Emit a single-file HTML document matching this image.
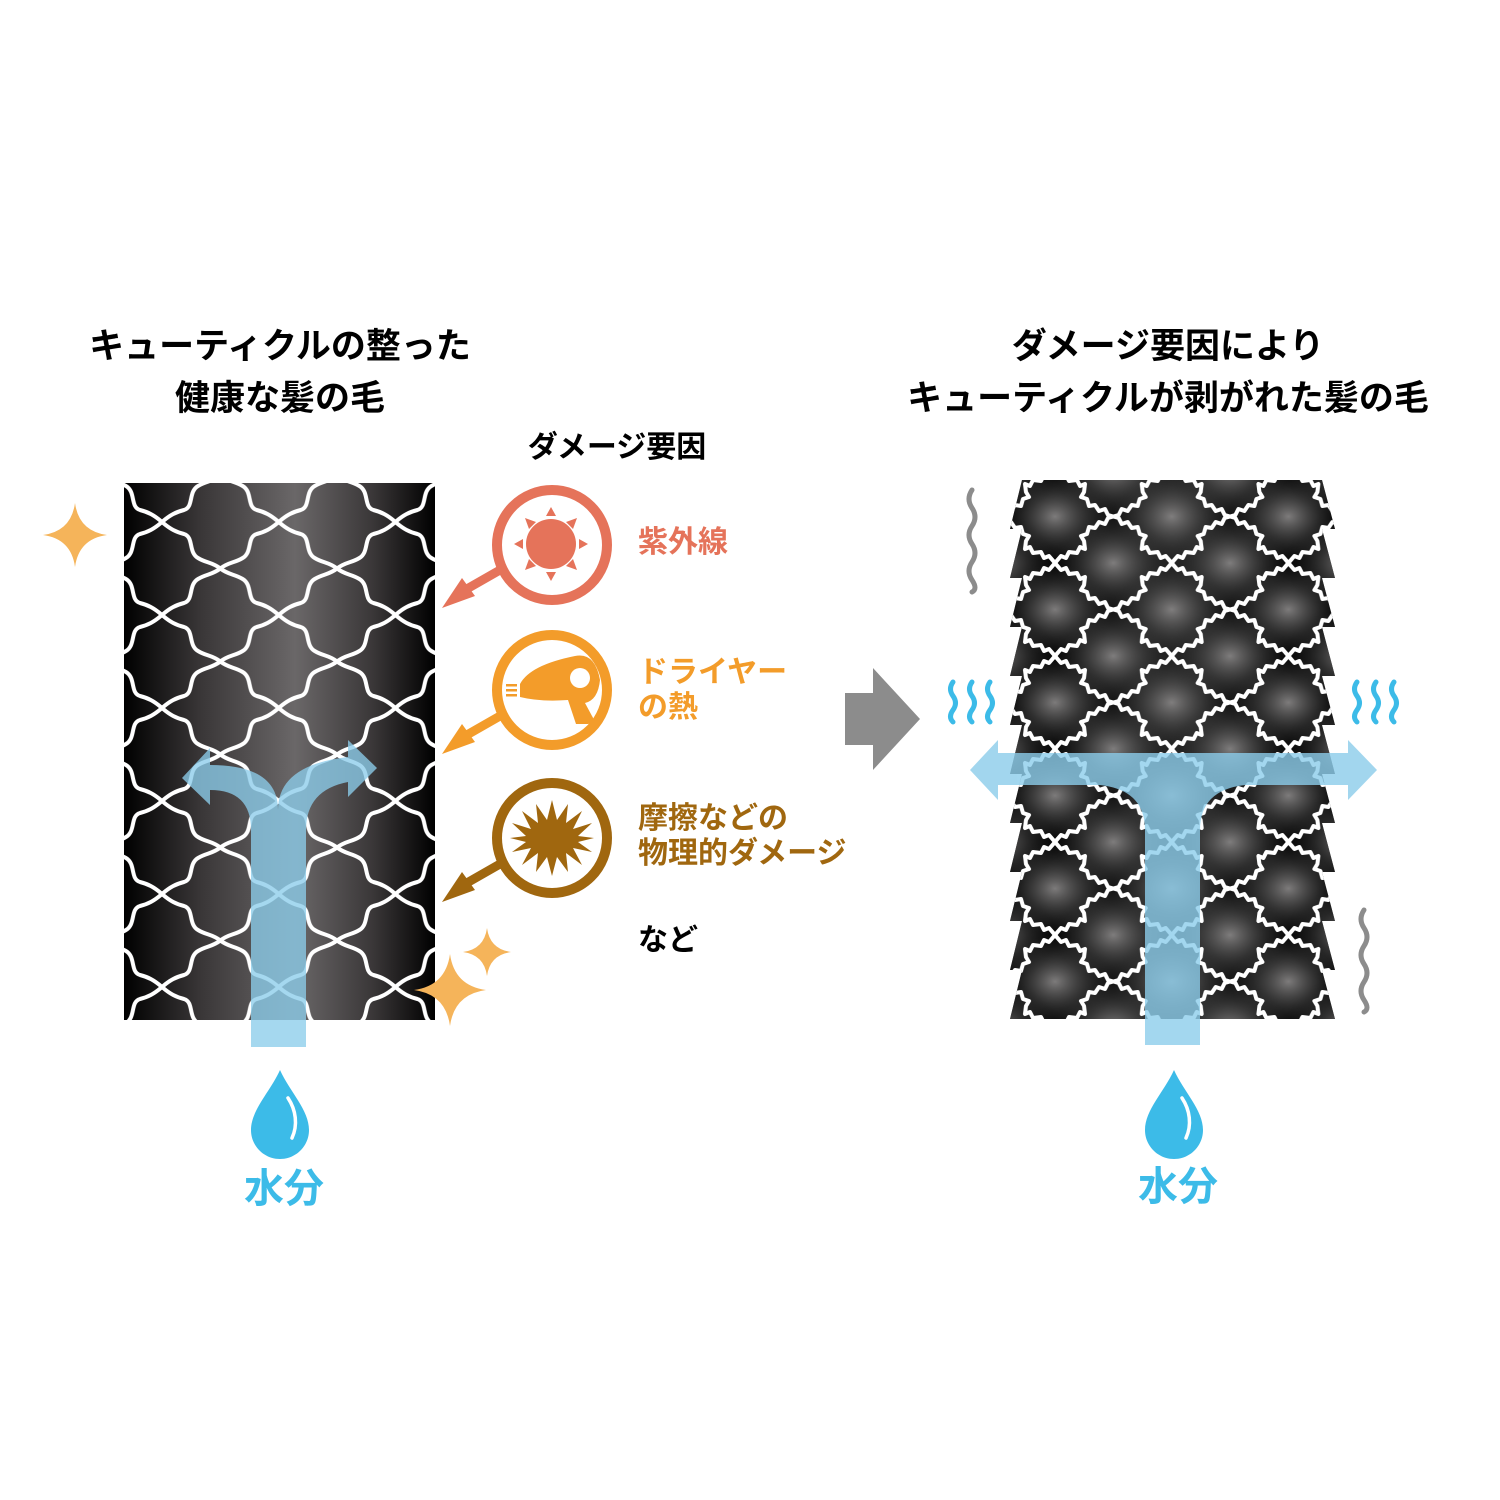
<!DOCTYPE html>
<html><head><meta charset="utf-8"><style>
html,body{margin:0;padding:0;background:#fff;}
svg{display:block}
text{font-family:"Liberation Sans","Noto Sans CJK JP",sans-serif;font-weight:bold;}
</style></head><body>
<svg width="1500" height="1500" viewBox="0 0 1500 1500" xmlns="http://www.w3.org/2000/svg">
<defs>
<linearGradient id="lg" x1="0" x2="1" y1="0" y2="0">
<stop offset="0" stop-color="#000"/><stop offset="0.25" stop-color="#3a3738"/><stop offset="0.55" stop-color="#6a6768"/><stop offset="0.8" stop-color="#3a3738"/><stop offset="1" stop-color="#000"/>
</linearGradient>
<linearGradient id="lg2" x1="0" x2="1" y1="0" y2="0">
<stop offset="0" stop-color="#000"/><stop offset="0.5" stop-color="#222"/><stop offset="1" stop-color="#000"/>
</linearGradient>
<radialGradient id="rg" cx="0.5" cy="0.5" r="0.5">
<stop offset="0" stop-color="#8a8888" stop-opacity="0.9"/><stop offset="0.6" stop-color="#555" stop-opacity="0.35"/><stop offset="1" stop-color="#333" stop-opacity="0"/>
</radialGradient>
<path id="e1" d="M0,0 C8,7 14,10 22,12 C32,15 26,30 36,36 C44,41 50,40 58.35,46.5" fill="none" stroke="#fff" stroke-width="4"/>
<pattern id="pl" patternUnits="userSpaceOnUse" x="45.3" y="57" width="116.7" height="93">
<use href="#e1"/>
<use href="#e1" transform="translate(116.7,0) scale(-1,1)"/>
<use href="#e1" transform="translate(0,93) scale(1,-1)"/>
<use href="#e1" transform="translate(116.7,93) scale(-1,-1)"/>
</pattern>
<path id="e2" d="M0,0 L6,7 L11,5 L14,11 L22,10 L25,16 L30,14 L29,22 L26,27 L32,29 L34,36 L40,35 L44,41 L50,39 L53,45 L58.35,46.5" fill="none" stroke="#fff" stroke-width="4" stroke-linejoin="round"/>
<pattern id="pr" patternUnits="userSpaceOnUse" x="1055" y="470" width="116.7" height="93">
<ellipse cx="58.35" cy="0" rx="58" ry="46" fill="url(#rg)"/>
<ellipse cx="0" cy="46.5" rx="58" ry="46" fill="url(#rg)"/>
<ellipse cx="116.7" cy="46.5" rx="58" ry="46" fill="url(#rg)"/>
<ellipse cx="58.35" cy="93" rx="58" ry="46" fill="url(#rg)"/>
<use href="#e2"/>
<use href="#e2" transform="translate(116.7,0) scale(-1,1)"/>
<use href="#e2" transform="translate(0,93) scale(1,-1)"/>
<use href="#e2" transform="translate(116.7,93) scale(-1,-1)"/>
</pattern>
<path id="sp" d="M0,-1 Q0.12,-0.12 1,0 Q0.12,0.12 0,1 Q-0.12,0.12 -1,0 Q-0.12,-0.12 0,-1Z" fill="#f5b45a"/>
<path id="drop" d="M0,-52 C-10,-30 -29,-12 -29,8 C-29,24 -16,37 0,37 C16,37 29,24 29,8 C29,-12 10,-30 0,-52Z" fill="#3cbbe8"/>
</defs>

<text x="280" y="358" font-size="35" text-anchor="middle">キューティクルの整った</text>
<text x="280" y="410" font-size="35" text-anchor="middle">健康な髪の毛</text>
<text x="1168" y="358" font-size="35" text-anchor="middle">ダメージ要因により</text>
<text x="1168" y="410" font-size="35" text-anchor="middle">キューティクルが剥がれた髪の毛</text>
<text x="617" y="457" font-size="30" text-anchor="middle">ダメージ要因</text>

<rect x="124" y="483" width="311" height="537" fill="url(#lg)"/>
<rect x="124" y="483" width="311" height="537" fill="url(#pl)"/>

<g fill="#8ccdeb" opacity="0.78">
<path d="M251,1047 L251,830 Q251,790 210,790 L210,765 Q278,765 278,810 Q278,765 348,757 L348,782 Q306,790 306,830 L306,1047Z"/>
<polygon points="182,778 210,748 210,805"/>
<polygon points="377,768 348,740 348,797"/>
</g>
<use href="#drop" x="280" y="1122"/>
<path d="M288,1098 C296,1110 298,1125 292,1138" stroke="#fff" stroke-width="3.5" fill="none" stroke-linecap="round"/>
<text x="284" y="1202" font-size="40" fill="#3cbbe8" text-anchor="middle">水分</text>

<use href="#sp" transform="translate(75,535) scale(32)"/>
<use href="#sp" transform="translate(450,990) scale(36)"/>
<use href="#sp" transform="translate(487,952) scale(24)"/>

<g fill="none" stroke-width="10">
<circle cx="552" cy="545" r="55" stroke="#e5735a"/>
<circle cx="552" cy="690" r="55" stroke="#f39c2a"/>
<circle cx="552" cy="838" r="55" stroke="#a0670f"/>
</g>
<g fill="#e5735a">
<circle cx="551" cy="544" r="25"/>
<polygon points="551,507 546,516 556,516"/><polygon points="551,581 546,572 556,572"/>
<polygon points="514,544 523,539 523,549"/><polygon points="588,544 579,539 579,549"/>
<polygon points="525,518 536,522 529,529"/><polygon points="577,518 566,522 573,529"/>
<polygon points="525,570 536,566 529,559"/><polygon points="577,570 566,566 573,559"/>
<path d="M500,570 L465,590" stroke="#e5735a" stroke-width="9"/>
<polygon points="442,608 462,578 475,596"/>
</g>
<g fill="#f39c2a">
<path d="M520,684 Q530,665 575,656 Q595,652 600,680 Q598,700 585,703 L592,716 Q596,722 588,724 L576,724 L568,700 Q540,702 520,697Z"/>
<circle cx="580" cy="678" r="10" fill="#fff"/>
<rect x="506" y="684" width="11" height="2.5"/><rect x="506" y="689" width="11" height="2.5"/><rect x="506" y="694" width="11" height="2.5"/>
<path d="M500,716 L465,736" stroke="#f39c2a" stroke-width="9"/>
<polygon points="442,754 462,724 475,742"/>
</g>
<g fill="#a0670f">
<polygon points="552,800 557,820 568,804 566,823 582,811 573,829 592,823 578,836 594,838 578,842 592,852 573,848 582,865 566,853 568,872 557,857 552,876 547,857 536,872 538,853 522,865 531,848 512,852 526,842 510,838 526,836 512,823 531,829 522,811 538,823 536,804 547,820"/>
<path d="M500,864 L465,884" stroke="#a0670f" stroke-width="9"/>
<polygon points="442,902 462,872 475,890"/>
</g>
<text x="638" y="552" font-size="30" fill="#e5735a">紫外線</text>
<text x="638" y="682" font-size="30" fill="#f39c2a">ドライヤー</text>
<text x="638" y="717" font-size="30" fill="#f39c2a">の熱</text>
<text x="638" y="828" font-size="30" fill="#a0670f">摩擦などの</text>
<text x="638" y="863" font-size="30" fill="#a0670f">物理的ダメージ</text>
<text x="638" y="950" font-size="30" fill="#000">など</text>

<polygon points="845,693 873,693 873,668 920,719 873,770 873,745 845,745" fill="#8c8c8c"/>

<polygon fill="url(#lg2)" points="1022,480 1010,529 1022,529 1010,578 1022,578 1010,627 1022,627 1010,676 1022,676 1010,725 1022,725 1010,774 1022,774 1010,823 1022,823 1010,872 1022,872 1010,921 1022,921 1010,970 1022,970 1010,1019 1335,1019 1322,970 1335,970 1322,921 1335,921 1322,872 1335,872 1322,823 1335,823 1322,774 1335,774 1322,725 1335,725 1322,676 1335,676 1322,627 1335,627 1322,578 1335,578 1322,529 1335,529 1322,480"/>
<polygon fill="url(#pr)" points="1022,480 1010,529 1022,529 1010,578 1022,578 1010,627 1022,627 1010,676 1022,676 1010,725 1022,725 1010,774 1022,774 1010,823 1022,823 1010,872 1022,872 1010,921 1022,921 1010,970 1022,970 1010,1019 1335,1019 1322,970 1335,970 1322,921 1335,921 1322,872 1335,872 1322,823 1335,823 1322,774 1335,774 1322,725 1335,725 1322,676 1335,676 1322,627 1335,627 1322,578 1335,578 1322,529 1335,529 1322,480"/>
<g fill="#8ccdeb" opacity="0.8">
<path d="M998,753 L1348,753 L1348,785 L1245,785 Q1200,790 1200,830 L1200,1045 L1145,1045 L1145,830 Q1145,790 1100,785 L998,785Z"/>
<polygon points="970,770 998,740 998,800"/>
<polygon points="1377,770 1348,740 1348,800"/>
</g>
<use href="#drop" x="1174" y="1122"/>
<path d="M1182,1098 C1190,1110 1192,1125 1186,1138" stroke="#fff" stroke-width="3.5" fill="none" stroke-linecap="round"/>
<text x="1178" y="1200" font-size="40" fill="#3cbbe8" text-anchor="middle">水分</text>

<g fill="none" stroke-linecap="round" stroke-width="5">
<path d="M972,490 q-6,9 0,18 q6,9 0,18 q-6,9 0,18 q6,9 0,18 q-6,9 0,18 q6,9 0,12" stroke="#8c8c8c"/>
<path d="M1364,910 q-6,9 0,18 q6,9 0,18 q-6,9 0,18 q6,9 0,18 q-6,9 0,18 q6,9 0,12" stroke="#8c8c8c"/>
<g stroke="#3cbbe8">
<path d="M953,682 q-5,7 0,14 q5,7 0,14 q-5,7 0,12"/>
<path d="M972,682 q-5,7 0,14 q5,7 0,14 q-5,7 0,12"/>
<path d="M990,682 q-5,7 0,14 q5,7 0,14 q-5,7 0,12"/>
<path d="M1357,682 q-5,7 0,14 q5,7 0,14 q-5,7 0,12"/>
<path d="M1376,682 q-5,7 0,14 q5,7 0,14 q-5,7 0,12"/>
<path d="M1394,682 q-5,7 0,14 q5,7 0,14 q-5,7 0,12"/>
</g>
</g>
</svg>
</body></html>
